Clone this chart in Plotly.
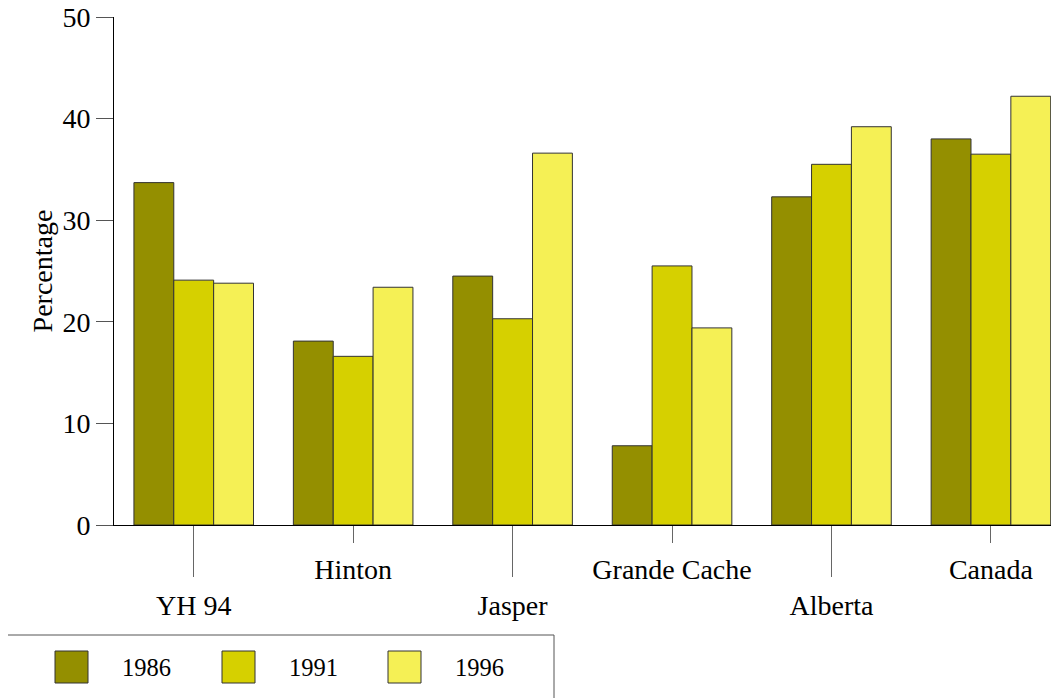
import plotly.graph_objects as go

categories = ["YH 94", "Hinton", "Jasper", "Grande Cache", "Alberta", "Canada"]
years = ["1986", "1991", "1996"]
v1986 = [33.7, 18.1, 24.5, 7.8, 32.3, 38.0]
v1991 = [24.1, 16.6, 20.3, 25.5, 35.5, 36.5]
v1996 = [23.8, 23.4, 36.6, 19.4, 39.2, 42.2]
colors = ["#948F00", "#D6D000", "#F5F055"]
y_ticks = [0, 10, 20, 30, 40, 50]
y_title = "Percentage"

series = [v1986, v1991, v1996]
FONT = "Liberation Serif, Times New Roman, serif"
OFF = 8  # page body margin

fig = go.Figure()
for name, vals, col in zip(years, series, colors):
    fig.add_trace(go.Bar(
        x=categories, y=vals, name=name,
        marker=dict(color=col, line=dict(color="#333333", width=1)),
        showlegend=False,
    ))

ticktext = [(" <br>" + c) if i % 2 == 0 else c for i, c in enumerate(categories)]
xr = [-0.5, 5.427]

fig.update_layout(
    width=1059 - OFF, height=698 - OFF,
    margin=dict(l=114 - OFF, r=0, t=17 - OFF, b=173),
    paper_bgcolor="white", plot_bgcolor="white",
    barmode="group", bargap=0.25, bargroupgap=0,
    font=dict(family=FONT, size=28, color="black"),
    xaxis=dict(
        type="category", categoryorder="array", categoryarray=categories,
        range=xr, tickmode="array", tickvals=categories, ticktext=ticktext,
        showline=True, linecolor="black", linewidth=1, automargin=False,
        ticks="outside", ticklen=17, tickcolor="#666666", tickwidth=1,
        showgrid=False, tickfont=dict(family=FONT, size=28, color="black"),
        ticklabelstandoff=2, ticklabeloverflow="allow",
    ),
    xaxis2=dict(
        overlaying="x", anchor="y", side="bottom", range=xr, automargin=False,
        tickmode="array", tickvals=[0, 2, 4], ticks="outside", ticklen=51,
        tickcolor="#666666", tickwidth=1, showticklabels=False,
        showline=False, showgrid=False, zeroline=False,
    ),
    yaxis=dict(
        range=[0, 50], tickmode="array", tickvals=y_ticks, automargin=False,
        showline=True, linecolor="black", linewidth=1,
        ticks="outside", ticklen=17, tickcolor="#555555", tickwidth=1,
        showgrid=False, zeroline=False, ticklabeloverflow="allow",
        tickfont=dict(family=FONT, size=28, color="black"),
        title=dict(text=y_title, standoff=1, font=dict(family=FONT, size=28)),
    ),
)

fig.add_trace(go.Scatter(x=[0], y=[0], xaxis="x2", mode="markers",
                         marker=dict(opacity=0), showlegend=False, hoverinfo="skip"))

# manual legend; positions given in page px
pl, pw, pt, ph = 114, 945, 17, 508


def px(xp):
    return (xp - pl) / pw


def py(yp):
    return 1 - (yp - pt) / ph


fig.add_shape(type="rect", xref="paper", yref="paper",
              x0=px(7), x1=px(554), y0=py(635), y1=py(705),
              line=dict(color="#555555", width=1), fillcolor="white")
sw_x = [55, 222, 388]
for i, (name, col) in enumerate(zip(years, colors)):
    x0 = sw_x[i]
    fig.add_shape(type="rect", xref="paper", yref="paper",
                  x0=px(x0), x1=px(x0 + 33), y0=py(651), y1=py(683),
                  line=dict(color="#333333", width=1), fillcolor=col)
    fig.add_annotation(xref="paper", yref="paper", x=px(x0 + 65), y=py(667),
                       text=name, showarrow=False, xanchor="left", yanchor="middle",
                       font=dict(family=FONT, size=24.5, color="black"))

fig.write_html("out.html")
